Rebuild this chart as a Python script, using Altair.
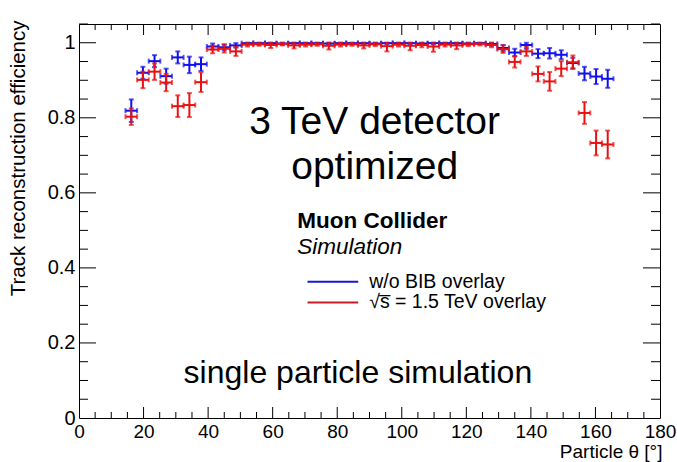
import altair as alt
import pandas as pd

# ---------------- data ----------------
theta = [16.2, 19.8, 23.4, 27.0, 30.6, 34.2, 37.8, 41.4, 45.0, 48.6,
         52.2, 55.8, 59.4, 63.0, 66.6, 70.2, 73.8, 77.4, 81.0, 84.6,
         88.2, 91.8, 95.4, 99.0, 102.6, 106.2, 109.8, 113.4, 117.0, 120.6,
         124.2, 127.8, 131.4, 135.0, 138.6, 142.2, 145.8, 149.4, 153.0, 156.6,
         160.2, 163.8]
half_bin = 1.8

eff_nobib = [0.819, 0.920, 0.951, 0.911, 0.961, 0.941, 0.943, 0.990, 0.988, 0.993,
             0.999, 0.999, 0.999, 0.998, 0.999, 0.999, 0.999, 0.998, 0.999, 0.999,
             0.999, 0.998, 0.999, 0.999, 0.999, 0.998, 0.999, 0.999, 0.999, 0.998,
             0.999, 0.997, 0.986, 0.974, 0.994, 0.971, 0.972, 0.968, 0.946, 0.918,
             0.910, 0.904]
err_nobib = [0.030, 0.016, 0.016, 0.020, 0.016, 0.022, 0.018, 0.008, 0.008, 0.006,
             0.003, 0.003, 0.003, 0.003, 0.003, 0.003, 0.003, 0.003, 0.003, 0.003,
             0.003, 0.003, 0.003, 0.003, 0.003, 0.003, 0.003, 0.003, 0.003, 0.003,
             0.003, 0.005, 0.008, 0.010, 0.010, 0.012, 0.014, 0.012, 0.014, 0.018,
             0.020, 0.024]

eff_bib = [0.803, 0.901, 0.923, 0.894, 0.831, 0.834, 0.895, 0.982, 0.984, 0.977,
           0.995, 0.996, 0.994, 0.997, 0.993, 0.995, 0.996, 0.992, 0.995, 0.996,
           0.993, 0.996, 0.991, 0.995, 0.992, 0.994, 0.990, 0.995, 0.993, 0.996,
           0.997, 0.994, 0.983, 0.949, 0.977, 0.917, 0.897, 0.931, 0.948, 0.813,
           0.733, 0.729]
err_bib = [0.022, 0.022, 0.022, 0.023, 0.029, 0.032, 0.026, 0.010, 0.010, 0.012,
           0.005, 0.004, 0.008, 0.004, 0.008, 0.005, 0.004, 0.010, 0.005, 0.004,
           0.008, 0.005, 0.014, 0.005, 0.012, 0.006, 0.014, 0.005, 0.010, 0.005,
           0.004, 0.006, 0.010, 0.015, 0.012, 0.020, 0.025, 0.020, 0.018, 0.029,
           0.033, 0.037]

x_ticks_major = [0, 20, 40, 60, 80, 100, 120, 140, 160, 180]
x_ticks_minor = [5, 10, 15, 25, 30, 35, 45, 50, 55, 65, 70, 75, 85, 90, 95,
                 105, 110, 115, 125, 130, 135, 145, 150, 155, 165, 170, 175]
y_ticks_major = [0, 0.2, 0.4, 0.6, 0.8, 1.0]
y_ticks_minor = [0.05, 0.1, 0.15, 0.25, 0.3, 0.35, 0.45, 0.5, 0.55, 0.65, 0.7,
                 0.75, 0.85, 0.9, 0.95, 1.05]

series_names = ["w/o BIB overlay", "√s̅ = 1.5 TeV overlay"]
big_text = ["3 TeV detector", "optimized"]
bottom_text = "single particle simulation"

# ---------------- styling ----------------
W, H = 581, 394
BLUE = "#1010ee"
RED = "#e81010"
LEG_BLUE = "#1818d0"
LEG_RED = "#c41c24"
FONT = "Liberation Sans"

xscale = alt.Scale(domain=[0, 180], nice=False, zero=False)
yscale = alt.Scale(domain=[0, 1.05], nice=False, zero=False)

xaxis = alt.Axis(values=x_ticks_major, ticks=False, tickSize=0, domain=False, grid=False,
                 labelFontSize=19, labelFont=FONT, labelColor="black", labelPadding=4,
                 labelFlush=False, labelOverlap=False,
                 title="Particle θ [°]", titleFont=FONT, titleFontSize=19,
                 titleFontWeight="normal", titleColor="black",
                 titleAnchor="end", titleAlign="right", titleX=W + 2, titleY=39,
                 titleBaseline="alphabetic")
yaxis = alt.Axis(values=y_ticks_major, ticks=False, tickSize=0, domain=False, grid=False,
                 format="~g", labelFontSize=20, labelFont=FONT, labelColor="black",
                 labelPadding=4, labelFlush=False, labelOverlap=False,
                 title="Track reconstruction efficiency", titleFont=FONT,
                 titleFontSize=20.5, titleFontWeight="normal", titleColor="black",
                 titleAngle=270, titleAnchor="end", titleAlign="right",
                 titleBaseline="middle", titleX=-61, titleY=-4)


def X(f):
    return alt.X(f"{f}:Q", scale=xscale, axis=xaxis)


def Y(f):
    return alt.Y(f"{f}:Q", scale=yscale, axis=yaxis)


def series_layers(eff, err, color):
    df = pd.DataFrame({
        "theta": theta,
        "eff": eff,
        "xlo": [t - half_bin for t in theta],
        "xhi": [t + half_bin for t in theta],
        "lo": [e - d for e, d in zip(eff, err)],
        "hi": [min(e + d, 1.0) for e, d in zip(eff, err)],
    })
    base = alt.Chart(df)
    hbar = base.mark_rule(strokeWidth=2, color=color).encode(x=X("xlo"), x2="xhi", y=Y("eff"))
    vbar = base.mark_rule(strokeWidth=2, color=color).encode(x=X("theta"), y=Y("lo"), y2="hi")
    cap_lo = base.mark_tick(orient="horizontal", size=5, thickness=2, color=color).encode(
        x=X("theta"), y=Y("lo"))
    cap_hi = base.mark_tick(orient="horizontal", size=5, thickness=2, color=color).encode(
        x=X("theta"), y=Y("hi"))
    cap_l = base.mark_tick(orient="vertical", size=5, thickness=2, color=color).encode(
        x=X("xlo"), y=Y("eff"))
    cap_r = base.mark_tick(orient="vertical", size=5, thickness=2, color=color).encode(
        x=X("xhi"), y=Y("eff"))
    return [hbar, vbar, cap_lo, cap_hi, cap_l, cap_r]


# ---------------- inner ticks (ROOT style) ----------------
def xtick_layers(vals, L):
    d = alt.Chart(pd.DataFrame({"v": vals}))
    bot = d.mark_rule(color="black", strokeWidth=1).encode(
        x=X("v"), y=alt.value(H), y2=alt.value(H - L))
    top = d.mark_rule(color="black", strokeWidth=1).encode(
        x=X("v"), y=alt.value(0), y2=alt.value(L))
    return [bot, top]


def ytick_layers(vals, L):
    d = alt.Chart(pd.DataFrame({"v": vals}))
    left = d.mark_rule(color="black", strokeWidth=1).encode(
        y=Y("v"), x=alt.value(0), x2=alt.value(L))
    right = d.mark_rule(color="black", strokeWidth=1).encode(
        y=Y("v"), x=alt.value(W), x2=alt.value(W - L))
    return [left, right]


ticks = (xtick_layers(x_ticks_major[1:-1], 11) + xtick_layers(x_ticks_minor, 6)
         + ytick_layers(y_ticks_major[1:], 17) + ytick_layers(y_ticks_minor, 9))

# ---------------- annotations ----------------
big = alt.Chart(pd.DataFrame({"x": [91.6, 91.6], "y": [0.757, 0.637], "t": big_text})).mark_text(
    font=FONT, fontSize=39, align="center", baseline="alphabetic", color="black"
).encode(x=X("x"), y=Y("y"), text="t")

muon = alt.Chart(pd.DataFrame({"x": [67.6], "y": [0.506], "t": ["Muon Collider"]})).mark_text(
    font=FONT, fontSize=22.5, fontWeight="bold", align="left", baseline="alphabetic", color="black"
).encode(x=X("x"), y=Y("y"), text="t")

sim = alt.Chart(pd.DataFrame({"x": [67.6], "y": [0.437], "t": ["Simulation"]})).mark_text(
    font=FONT, fontSize=22.5, fontStyle="italic", align="left", baseline="alphabetic", color="black"
).encode(x=X("x"), y=Y("y"), text="t")

leg_df = pd.DataFrame({"x1": [70.8, 70.8], "x2": [86.5, 86.5], "y": [0.363, 0.308],
                       "tx": [89.9, 89.9], "t": series_names, "c": [LEG_BLUE, LEG_RED]})
leg_lines = alt.Chart(leg_df).mark_rule(strokeWidth=2).encode(
    x=X("x1"), x2="x2", y=Y("y"), color=alt.Color("c:N", scale=None))
leg_text = alt.Chart(leg_df).mark_text(
    font=FONT, fontSize=19.5, align="left", baseline="middle", color="black"
).encode(x=X("tx"), y=Y("y"), text="t")

single = alt.Chart(pd.DataFrame({"x": [86.4], "y": [0.094], "t": [bottom_text]})).mark_text(
    font=FONT, fontSize=32, align="center", baseline="alphabetic", color="black"
).encode(x=X("x"), y=Y("y"), text="t")

layers = (ticks + series_layers(eff_nobib, err_nobib, BLUE)
          + series_layers(eff_bib, err_bib, RED)
          + [big, muon, sim, leg_lines, leg_text, single])

chart = alt.layer(*layers).properties(
    width=W, height=H,
    autosize=alt.AutoSizeParams(type="none"),
    padding={"left": 79, "top": 24, "right": 17, "bottom": 44},
    background="white",
).configure_view(stroke="black", strokeWidth=1)

chart.save("out.html", embed_options={"renderer": "svg", "actions": False})
